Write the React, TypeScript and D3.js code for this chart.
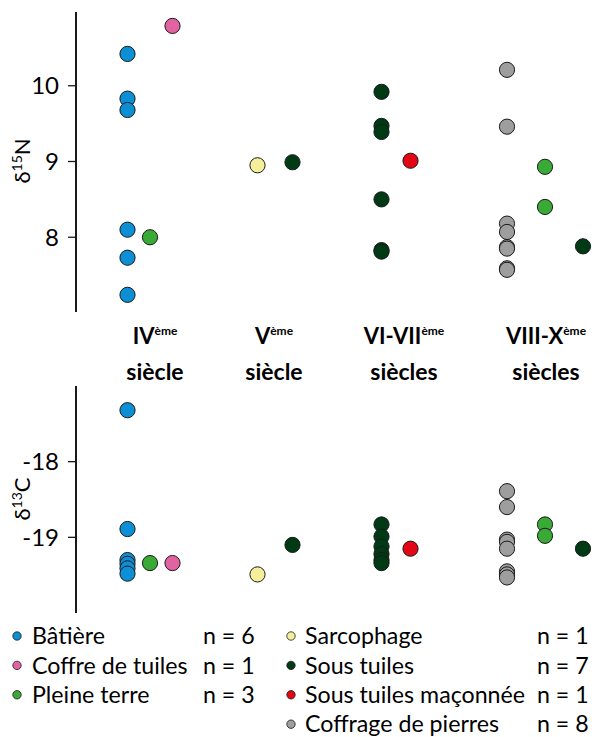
import React from "react";
import * as d3 from "d3";

// ---------- data ----------
const periods = ["IV", "V", "VI-VII", "VIII-X"];
const periodLabelMain = ["IV", "V", "VI-VII", "VIII-X"];
const periodLabelSup = ["ème", "ème", "ème", "ème"];
const periodLabelSecond = ["siècle", "siècle", "siècles", "siècles"];

const types = [
  "Bâtière",
  "Coffre de tuiles",
  "Pleine terre",
  "Sarcophage",
  "Sous tuiles",
  "Sous tuiles maçonnée",
  "Coffrage de pierres",
];
const typeCounts = [6, 1, 3, 1, 7, 1, 8];

// order of the types inside each period column group
const periodTypes: string[][] = [
  ["Bâtière", "Pleine terre", "Coffre de tuiles"],
  ["Sarcophage", "Sous tuiles"],
  ["Sous tuiles", "Sous tuiles maçonnée"],
  ["Coffrage de pierres", "Pleine terre", "Sous tuiles"],
];

// δ15N values, per [period, type]
const nBatiereIV = [10.42, 9.83, 9.68, 8.1, 7.73, 7.24];
const nPleineIV = [8.0];
const nCoffreIV = [10.79];
const nSarcoV = [8.95];
const nSousV = [8.99];
const nSousVI = [9.92, 9.47, 9.39, 8.5, 7.83, 7.81];
const nMaconVI = [9.01];
const nPierresVIII = [10.21, 9.46, 8.18, 8.07, 7.87, 7.85, 7.59, 7.57];
const nPleineVIII = [8.93, 8.4];
const nSousVIII = [7.88];

// δ13C values, per [period, type]
const cBatiereIV = [-17.32, -18.89, -19.3, -19.35, -19.41, -19.48];
const cPleineIV = [-19.34];
const cCoffreIV = [-19.34];
const cSarcoV = [-19.49];
const cSousV = [-19.1];
const cSousVI = [-18.83, -18.99, -19.12, -19.22, -19.3, -19.34];
const cMaconVI = [-19.15];
const cPierresVIII = [-18.39, -18.6, -19.03, -19.06, -19.15, -19.45, -19.49, -19.53];
const cPleineVIII = [-18.83, -18.98];
const cSousVIII = [-19.15];

const nTicks = [8, 9, 10];
const cTicks = [-19, -18];

type Pt = { period: string; type: string; value: number };
const mk = (period: string, type: string, vals: number[]): Pt[] =>
  vals.map((value) => ({ period, type, value }));

const nPoints: Pt[] = [
  ...mk("IV", "Bâtière", nBatiereIV),
  ...mk("IV", "Pleine terre", nPleineIV),
  ...mk("IV", "Coffre de tuiles", nCoffreIV),
  ...mk("V", "Sarcophage", nSarcoV),
  ...mk("V", "Sous tuiles", nSousV),
  ...mk("VI-VII", "Sous tuiles", nSousVI),
  ...mk("VI-VII", "Sous tuiles maçonnée", nMaconVI),
  ...mk("VIII-X", "Coffrage de pierres", nPierresVIII),
  ...mk("VIII-X", "Pleine terre", nPleineVIII),
  ...mk("VIII-X", "Sous tuiles", nSousVIII),
];
const cPoints: Pt[] = [
  ...mk("IV", "Bâtière", cBatiereIV),
  ...mk("IV", "Pleine terre", cPleineIV),
  ...mk("IV", "Coffre de tuiles", cCoffreIV),
  ...mk("V", "Sarcophage", cSarcoV),
  ...mk("V", "Sous tuiles", cSousV),
  ...mk("VI-VII", "Sous tuiles", cSousVI),
  ...mk("VI-VII", "Sous tuiles maçonnée", cMaconVI),
  ...mk("VIII-X", "Coffrage de pierres", cPierresVIII),
  ...mk("VIII-X", "Pleine terre", cPleineVIII),
  ...mk("VIII-X", "Sous tuiles", cSousVIII),
];

// ---------- styles / layout ----------
const colors = [
  "#0d8fd5",
  "#e263a1",
  "#3aaa36",
  "#f5ef9c",
  "#003a14",
  "#e30614",
  "#9e9e9e",
];
const color = d3.scaleOrdinal<string, string>(types, colors);

const W = 601;
const H = 737;
const AXIS_X = 76;
const FONT = "Lato, 'Open Sans', sans-serif";

const periodCenter = d3.scaleOrdinal<string, number>(periods, [150, 275, 396, 545]);
const labelCenter = d3.scaleOrdinal<string, number>(periods, [155, 274, 404, 546]);
const periodSpread = d3.scaleOrdinal<string, number>(periods, [45, 35, 29, 76]);

const xOf = (p: Pt) => {
  const i = periods.indexOf(p.period);
  const w = periodSpread(p.period);
  const inner = d3.scalePoint<string>().domain(periodTypes[i]).range([-w / 2, w / 2]);
  return periodCenter(p.period) + (inner(p.type) as number);
};

const yN = d3.scaleLinear().domain([7, 11]).range([313, 10]);
const yC = d3.scaleLinear().domain([-20, -17]).range([613, 386]);

const R = 7.6;

function Panel({
  points,
  y,
  ticks,
  top,
  bottom,
  title,
  sup,
  titleY,
}: {
  points: Pt[];
  y: d3.ScaleLinear<number, number>;
  ticks: number[];
  top: number;
  bottom: number;
  title: [string, string];
  sup: string;
  titleY: number;
}) {
  return (
    <g>
      <line x1={AXIS_X} x2={AXIS_X} y1={top} y2={bottom} stroke="#1a1a1a" strokeWidth={2} />
      {ticks.map((t) => (
        <g key={t}>
          <line x1={AXIS_X - 8} x2={AXIS_X} y1={y(t)} y2={y(t)} stroke="#1a1a1a" strokeWidth={1.3} />
          <text
            x={59}
            y={y(t)}
            dy="0.35em"
            textAnchor="end"
            fontFamily={FONT}
            fontSize={24}
            fill="#000"
          >
            {d3.format("d")(t).replace("−", "-")}
          </text>
        </g>
      ))}
      <text
        transform={`translate(30,${titleY}) rotate(-90)`}
        textAnchor="middle"
        fontFamily={FONT}
        fontSize={22}
        fill="#000"
      >
        {title[0]}
        <tspan fontSize={14} dy={-8}>
          {sup}
        </tspan>
        <tspan dy={8}>{title[1]}</tspan>
      </text>
      {points.map((p, i) => (
        <circle
          key={i}
          cx={xOf(p)}
          cy={y(p.value)}
          r={R}
          fill={color(p.type)}
          stroke="#1a1a1a"
          strokeWidth={1}
        />
      ))}
    </g>
  );
}

export default function App() {
  const legendLeft = types.slice(0, 3);
  const legendRight = types.slice(3);
  const rowY = (i: number) => 636 + i * 29.4;
  return (
    <svg
      width={W}
      height={H}
      viewBox={`0 0 ${W} ${H}`}
      style={{ position: "absolute", left: 0, top: 0, background: "#fff" }}
    >
      <rect width={W} height={H} fill="#fff" />
      <Panel
        points={nPoints}
        y={yN}
        ticks={nTicks}
        top={12}
        bottom={312}
        title={["δ", "N"]}
        sup="15"
        titleY={161}
      />
      <Panel
        points={cPoints}
        y={yC}
        ticks={cTicks}
        top={386}
        bottom={613}
        title={["δ", "C"]}
        sup="13"
        titleY={499}
      />
      {periods.map((p, i) => (
        <g key={p} fontFamily={FONT} fontWeight="bold" fill="#000">
          <text x={labelCenter(p)} y={344} textAnchor="middle" fontSize={22}>
            {periodLabelMain[i]}
            <tspan fontSize={12} dy={-9}>
              {periodLabelSup[i]}
            </tspan>
          </text>
          <text x={labelCenter(p)} y={380} textAnchor="middle" fontSize={23}>
            {periodLabelSecond[i]}
          </text>
        </g>
      ))}
      {legendLeft.map((t, i) => (
        <g key={t} fontFamily={FONT} fontSize={23.2} fill="#000">
          <circle cx={17} cy={rowY(i)} r={4.2} fill={color(t)} stroke="#1a1a1a" strokeWidth={0.8} />
          <text x={32} y={rowY(i)} dy="0.35em">
            {t}
          </text>
          <text x={203} y={rowY(i)} dy="0.35em">
            {`n = ${typeCounts[types.indexOf(t)]}`}
          </text>
        </g>
      ))}
      {legendRight.map((t, i) => (
        <g key={t} fontFamily={FONT} fontSize={23.2} fill="#000">
          <circle cx={291} cy={rowY(i)} r={4.2} fill={color(t)} stroke="#1a1a1a" strokeWidth={0.8} />
          <text x={305} y={rowY(i)} dy="0.35em">
            {t}
          </text>
          <text x={537} y={rowY(i)} dy="0.35em">
            {`n = ${typeCounts[types.indexOf(t)]}`}
          </text>
        </g>
      ))}
    </svg>
  );
}
